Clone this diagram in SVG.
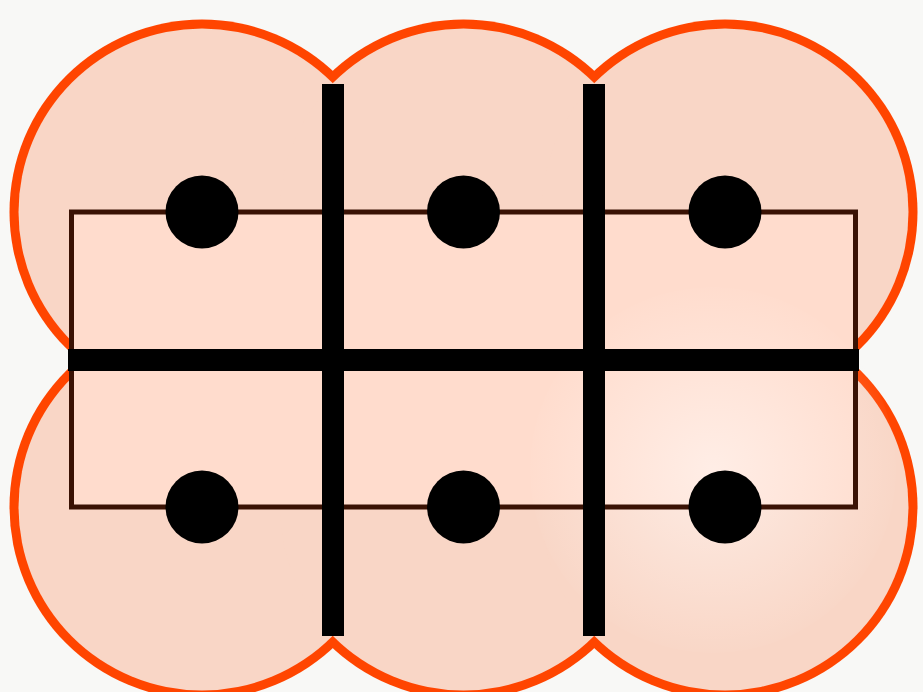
<svg xmlns="http://www.w3.org/2000/svg" width="923" height="692" viewBox="0 0 923 692">
<style>
.outer{fill:#ff4500}
.inner{fill:#f9d6c6}
.bar{stroke:#000;stroke-width:22;fill:none}
.dot{fill:#000}
</style>
<defs>
<radialGradient id="hl" cx="713" cy="470" r="190" gradientUnits="userSpaceOnUse">
<stop offset="0" stop-color="#fff3ee" stop-opacity="0.75"/>
<stop offset="1" stop-color="#fff3ee" stop-opacity="0"/>
</radialGradient>
</defs>
<rect width="923" height="692" fill="#f8f8f6"/>
<g id="blob">
<g class="outer">
<circle cx="202" cy="212" r="192.5"/>
<circle cx="463.5" cy="212" r="192.5"/>
<circle cx="725" cy="212" r="192.5"/>
<circle cx="202" cy="507" r="192.5"/>
<circle cx="463.5" cy="507" r="192.5"/>
<circle cx="725" cy="507" r="192.5"/>
</g>
<g class="inner">
<circle cx="202" cy="212" r="183.5"/>
<circle cx="463.5" cy="212" r="183.5"/>
<circle cx="725" cy="212" r="183.5"/>
<circle cx="202" cy="507" r="183.5"/>
<circle cx="463.5" cy="507" r="183.5"/>
<circle cx="725" cy="507" r="183.5"/>
</g>
<rect x="71.5" y="212" width="784" height="295" fill="#ffdccd"/>
<circle cx="713" cy="470" r="183" fill="url(#hl)"/>
</g>
<g id="connectors">
<rect x="71.5" y="212" width="784" height="295" fill="none" stroke="#3a1204" stroke-width="5"/>
<line class="bar" x1="333" y1="84" x2="333" y2="636"/>
<line class="bar" x1="594" y1="84" x2="594" y2="636"/>
<line class="bar" x1="68" y1="360" x2="859" y2="360"/>
</g>
<g id="n1"><circle class="dot" cx="202" cy="212" r="36.5"/></g>
<g id="n2"><circle class="dot" cx="463.5" cy="212" r="36.5"/></g>
<g id="n3"><circle class="dot" cx="725" cy="212" r="36.5"/></g>
<g id="n4"><circle class="dot" cx="202" cy="507" r="36.5"/></g>
<g id="n5"><circle class="dot" cx="463.5" cy="507" r="36.5"/></g>
<g id="n6"><circle class="dot" cx="725" cy="507" r="36.5"/></g>
</svg>
